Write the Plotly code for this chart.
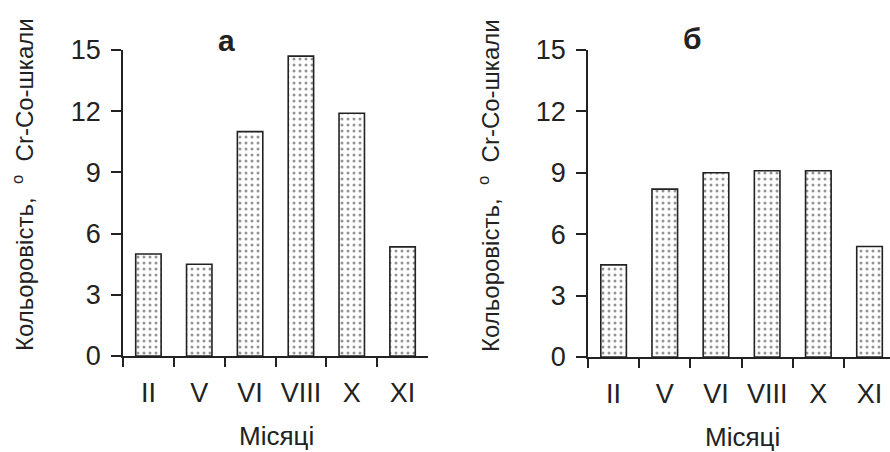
import plotly.graph_objects as go

months = ["II", "V", "VI", "VIII", "X", "XI"]
values_a = [5.0, 4.5, 11.0, 14.7, 11.9, 5.35]
values_b = [4.5, 8.2, 9.0, 9.1, 9.1, 5.4]
y_ticks = [0, 3, 6, 9, 12, 15]
panel_titles = ["а", "б"]
y_title = "Кольоровість,&nbsp; <sup>o</sup>&nbsp; Cr-Co-шкали"
x_title = "Місяці"

W, H = 890, 452
FONT = "Liberation Sans, Arial, sans-serif"
INK = "#222222"

def px(x):
    return x / W

def py(y):
    return 1 - y / H

pattern = dict(shape=".", fgcolor="#2a2a2a", bgcolor="white", size=6, solidity=0.2)

fig = go.Figure()
fig.add_trace(go.Bar(x=months, y=values_a, xaxis="x", yaxis="y", width=0.5,
                     marker=dict(color="white", pattern=pattern,
                                 line=dict(color=INK, width=1.6)),
                     showlegend=False))
fig.add_trace(go.Bar(x=months, y=values_b, xaxis="x2", yaxis="y2", width=0.5,
                     marker=dict(color="white", pattern=pattern,
                                 line=dict(color=INK, width=1.6)),
                     showlegend=False))

xcommon = dict(showline=True, linecolor=INK, linewidth=1.5, ticks="outside",
               tickson="boundaries", ticklen=9, tickwidth=1.5, tickcolor=INK,
               showgrid=False, zeroline=False, automargin=False,
               ticklabelstandoff=12,
               tickfont=dict(family=FONT, size=27, color=INK), fixedrange=True)
ycommon = dict(showline=True, linecolor=INK, linewidth=1.5, ticks="outside",
               ticklen=10, tickwidth=1.5, tickcolor=INK, range=[0, 15],
               tickvals=y_ticks, ticktext=[str(v) for v in y_ticks],
               showgrid=False, zeroline=False, automargin=False,
               ticklabelstandoff=5,
               tickfont=dict(family=FONT, size=27, color=INK), fixedrange=True)

fig.update_layout(
    width=W, height=H, margin=dict(l=0, r=0, t=0, b=0),
    paper_bgcolor="white", plot_bgcolor="rgba(0,0,0,0)",
    bargap=0.5,
    xaxis=dict(domain=[px(123), px(428)], range=[-0.5, 5.5], anchor="y",
               categoryorder="array", categoryarray=months, **xcommon),
    yaxis=dict(domain=[py(356), py(50)], anchor="x", **ycommon),
    xaxis2=dict(domain=[px(588), 1.0], range=[-0.5, 5.4], anchor="y2",
                categoryorder="array", categoryarray=months, **xcommon),
    yaxis2=dict(domain=[py(357), py(50)], anchor="x2", **ycommon),
)

annots = [
    dict(x=px(226), y=py(40), text="<b>" + panel_titles[0] + "</b>", font=dict(size=30)),
    dict(x=px(692), y=py(38), text="<b>" + panel_titles[1] + "</b>", font=dict(size=30)),
    dict(x=px(276), y=py(436), text=x_title, font=dict(size=26)),
    dict(x=px(742), y=py(437), text=x_title, font=dict(size=26)),
    dict(x=px(23), y=py(185), text=y_title, textangle=-90, font=dict(size=24)),
    dict(x=px(489), y=py(185), text=y_title, textangle=-90, font=dict(size=24)),
]
for a in annots:
    a["font"].update(family=FONT, color=INK)
    fig.add_annotation(xref="paper", yref="paper", showarrow=False,
                       xanchor="center", yanchor="middle", **a)

fig.write_html("out.html")
